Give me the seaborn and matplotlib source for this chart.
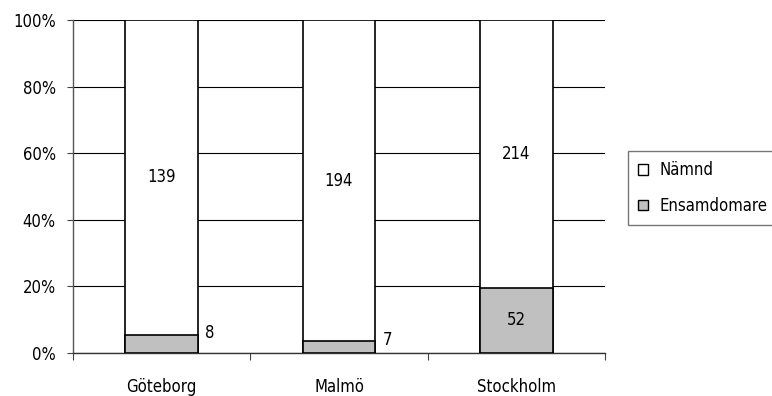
import matplotlib
matplotlib.use("Agg")
import matplotlib.pyplot as plt
from matplotlib.patches import Patch
from matplotlib.ticker import PercentFormatter
import seaborn as sns
import pandas as pd

# Cases per city, split by type of decision
cities = ["Göteborg", "Malmö", "Stockholm"]
ensamdomare = [8, 7, 52]
namnd = [139, 194, 214]
y_ticks = [0, 20, 40, 60, 80, 100]

sns.set_theme(style="white")
plt.rcParams["font.family"] = ["Liberation Sans Narrow", "DejaVu Sans"]
plt.rcParams["font.stretch"] = "condensed"
plt.rcParams["font.size"] = 12
plt.rcParams["text.color"] = "black"
plt.rcParams["xtick.color"] = "black"
plt.rcParams["ytick.color"] = "black"

totals = [e + n for e, n in zip(ensamdomare, namnd)]
ens_pct = [100 * e / t for e, t in zip(ensamdomare, totals)]
df = pd.DataFrame({"stad": cities, "total": [100.0] * len(cities), "ens": ens_pct})

fig = plt.figure(figsize=(7.72, 3.96), dpi=100)
ax = fig.add_axes([73 / 772, 1 - 353 / 396, (605 - 73) / 772, (353 - 20) / 396])

grey = "#c0c0c0"
bw = 0.41
sns.barplot(data=df, x="stad", y="total", color="white", edgecolor="black",
            linewidth=1.2, width=bw, saturation=1, ax=ax, zorder=3)
sns.barplot(data=df, x="stad", y="ens", color=grey, edgecolor="black",
            linewidth=1.2, width=bw, saturation=1, ax=ax, zorder=4)

ax.set_ylim(0, 100)
ax.set_xlim(-0.5, len(cities) - 0.5)
ax.set_yticks(y_ticks)
ax.yaxis.set_major_formatter(PercentFormatter(decimals=0))
ax.set_xlabel("")
ax.set_ylabel("")

# Horizontal gridlines and tick marks at category boundaries
ax.grid(axis="y", color="black", linewidth=0.8, zorder=0)
ax.set_axisbelow(True)
ax.set_xticks(range(len(cities)))
ax.set_xticklabels(cities)
ax.set_xticks([i - 0.5 for i in range(len(cities) + 1)], minor=True)
ax.tick_params(axis="x", which="major", length=0, pad=18, labelsize=12)
ax.tick_params(axis="x", which="minor", length=5, width=0.8, color="#444444",
               direction="out", bottom=True)
ax.tick_params(axis="y", length=4.5, width=0.8, color="#444444", direction="out",
               left=True, labelsize=12, pad=8)

for side in ["top", "right"]:
    ax.spines[side].set_visible(False)
ax.spines["left"].set_color("#555555")
ax.spines["bottom"].set_color("#333333")
ax.spines["left"].set_linewidth(1.0)
ax.spines["bottom"].set_linewidth(1.0)

# Value labels
for i, (e, n, p) in enumerate(zip(ensamdomare, namnd, ens_pct)):
    ax.text(i, p + (100 - p) / 2, str(n), ha="center", va="center", fontsize=12, zorder=5)
    if p > 10:
        ax.text(i, p / 2, str(e), ha="center", va="center", fontsize=12, zorder=5)
    else:
        ax.text(i + bw / 2 + 0.04, p + 0.5, str(e), ha="left", va="center",
                fontsize=12, zorder=5)

handles = [Patch(facecolor="white", edgecolor="black", label="Nämnd"),
           Patch(facecolor=grey, edgecolor="black", label="Ensamdomare")]
leg = fig.legend(handles=handles, loc="center left", mode="expand",
                 bbox_to_anchor=(628 / 772, 1 - 188 / 396, 160 / 772, 0),
                 frameon=True, fancybox=False, edgecolor="#555555", fontsize=12,
                 handlelength=0.6, handleheight=0.6, handletextpad=0.7,
                 borderpad=0.6, labelspacing=1.05, borderaxespad=0)
leg.get_frame().set_linewidth(1.0)

fig.savefig("out.png", dpi=100)
